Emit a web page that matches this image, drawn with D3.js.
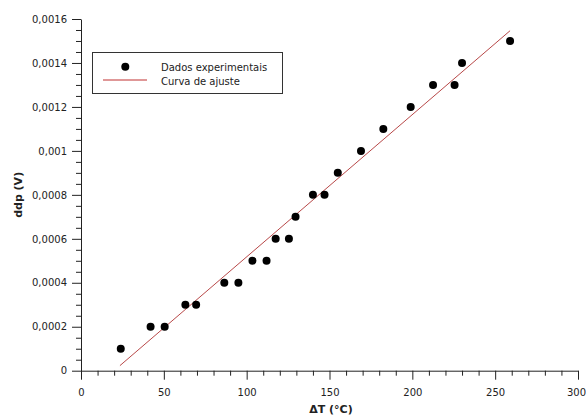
<!DOCTYPE html>
<html>
<head>
<meta charset="utf-8">
<script src="https://cdn.jsdelivr.net/npm/d3@7"></script>
<style>
  html, body { margin: 0; padding: 0; background: #fff; }
  svg { display: block; }
  text { font-family: "DejaVu Sans", sans-serif; fill: #222; }
</style>
</head>
<body>
<svg id="chart" width="586" height="417"></svg>
<script>
// ---- data ----
const deltaT = [24, 42, 50.5, 63, 69.5, 86.5, 95, 103.5, 112, 117.5, 125.5, 129.5, 140, 147, 155, 169, 182.5, 199, 212.5, 225.5, 230, 259];
const ddp = [0.0001, 0.0002, 0.0002, 0.0003, 0.0003, 0.0004, 0.0004, 0.0005, 0.0005, 0.0006, 0.0006, 0.0007, 0.0008, 0.0008, 0.0009, 0.0010, 0.0011, 0.0012, 0.0013, 0.0013, 0.0014, 0.0015];
const fitSlope = 6.47e-6;
const fitIntercept = -0.000129;
const fitRange = [23.5, 259];
const xTicks = [0, 50, 100, 150, 200, 250, 300];
const yTicks = [0, 0.0002, 0.0004, 0.0006, 0.0008, 0.001, 0.0012, 0.0014, 0.0016];
const yTickLabels = ["0", "0,0002", "0,0004", "0,0006", "0,0008", "0,001", "0,0012", "0,0014", "0,0016"];
const legendLabels = ["Dados experimentais", "Curva de ajuste"];
const xTitle = "ΔT (°C)";
const yTitle = "ddp (V)";

// ---- layout ----
const svg = d3.select("#chart");
const x = d3.scaleLinear().domain([0, 300]).range([81, 578]);
const y = d3.scaleLinear().domain([0, 0.0016]).range([370.7, 19]);
const fitColor = "#b84848";

// minor ticks
const xMinor = d3.range(0, 301, 10).filter(v => v % 50 !== 0);
const yMinor = d3.range(0, 33).map(i => i * 0.00005).filter((v, i) => i % 4 !== 0);

// x axis
const gx = svg.append("g").attr("transform", `translate(0,${y(0)})`);
gx.call(d3.axisBottom(x).tickValues(xTicks).tickSize(9).tickPadding(9).tickFormat(d3.format("d")).tickSizeOuter(0));
gx.append("g").call(d3.axisBottom(x).tickValues(xMinor).tickSize(5).tickFormat(""))
  .select(".domain").remove();

// y axis
const gy = svg.append("g").attr("transform", `translate(${x(0)},0)`);
gy.call(d3.axisLeft(y).tickValues(yTicks).tickSize(9).tickPadding(5).tickSizeOuter(0)
  .tickFormat((d, i) => yTickLabels[i]));
gy.append("g").call(d3.axisLeft(y).tickValues(yMinor).tickSize(5).tickFormat(""))
  .select(".domain").remove();

svg.selectAll(".tick text").attr("font-size", 10).attr("font-family", "DejaVu Sans, sans-serif").attr("fill", "#333");
svg.selectAll(".domain, .tick line").attr("stroke", "#222");
// keep the last x label inside the picture
gx.selectAll(".tick text").filter(d => d === 300).attr("text-anchor", "end").attr("dx", 7.5);

// axis titles
svg.append("text").attr("x", 331).attr("y", 413).attr("text-anchor", "middle")
  .attr("font-size", 11).attr("font-weight", "bold").text(xTitle);
svg.append("text").attr("transform", `translate(22,${(y(0) + y(0.0016)) / 2}) rotate(-90)`)
  .attr("text-anchor", "middle").attr("font-size", 11).attr("font-weight", "bold").text(yTitle);

// fit line
svg.append("line")
  .attr("x1", x(fitRange[0])).attr("y1", y(fitSlope * fitRange[0] + fitIntercept))
  .attr("x2", x(fitRange[1])).attr("y2", y(fitSlope * fitRange[1] + fitIntercept))
  .attr("stroke", fitColor).attr("stroke-width", 1);

// points
svg.append("g").selectAll("circle").data(deltaT).join("circle")
  .attr("cx", d => x(d)).attr("cy", (d, i) => y(ddp[i])).attr("r", 4).attr("fill", "#000");

// legend
const lg = svg.append("g");
lg.append("rect").attr("x", 92.5).attr("y", 52.5).attr("width", 190).attr("height", 41)
  .attr("fill", "#fff").attr("stroke", "#333").attr("stroke-width", 1);
lg.append("circle").attr("cx", 125.3).attr("cy", 66.7).attr("r", 4).attr("fill", "#000");
lg.append("line").attr("x1", 103).attr("x2", 147).attr("y1", 80).attr("y2", 80)
  .attr("stroke", "#c03030").attr("stroke-width", 1);
lg.selectAll("text.lab").data(legendLabels).join("text").attr("class", "lab")
  .attr("x", 161).attr("y", (d, i) => 71 + i * 13.5).attr("font-size", 10).attr("fill", "#333").text(d => d);
</script>
</body>
</html>
